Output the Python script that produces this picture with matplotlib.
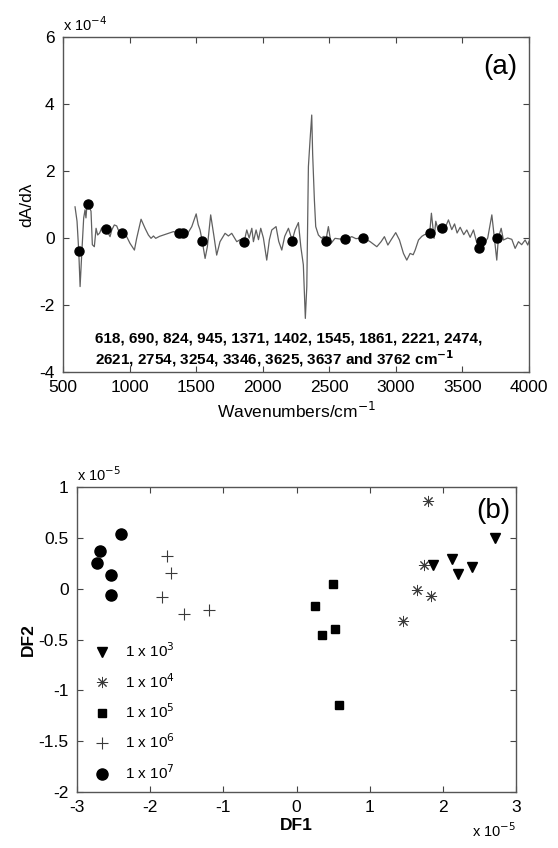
import matplotlib
matplotlib.use("Agg")
import matplotlib.pyplot as plt

plt.rcParams['font.family'] = ['Liberation Sans', 'DejaVu Sans']
plt.rcParams['axes.unicode_minus'] = False

# ---------------- Panel (a) data (values in units of 1e-4) ----------------
spec_wn = [590, 605, 618, 628, 640, 655, 665, 672, 680, 690, 700, 710, 720, 735, 748, 760,
           775, 790, 815, 824, 840, 853, 866, 885, 903, 915, 945, 960, 978, 1003, 1036, 1053,
           1086, 1116, 1141, 1161, 1179, 1196, 1225, 1254, 1291, 1329, 1371, 1402, 1429, 1467,
           1500, 1515, 1529, 1545, 1567, 1584, 1609, 1634, 1654, 1679, 1717, 1742, 1767, 1805,
           1830, 1861, 1880, 1898, 1918, 1930, 1950, 1968, 1985, 2005, 2030, 2050, 2068, 2100,
           2120, 2143, 2165, 2193, 2221, 2243, 2268, 2286, 2305, 2320, 2331, 2343, 2355, 2368,
           2375, 2388, 2398, 2418, 2440, 2460, 2474, 2493, 2513, 2543, 2580, 2621, 2669, 2700,
           2754, 2807, 2857, 2889, 2914, 2940, 2965, 2999, 3027, 3057, 3082, 3107, 3130, 3145,
           3170, 3195, 3215, 3254, 3267, 3287, 3300, 3320, 3346, 3370, 3395, 3420, 3441, 3460,
           3483, 3510, 3533, 3558, 3583, 3605, 3625, 3637, 3658, 3690, 3721, 3740, 3758, 3770,
           3791, 3808, 3840, 3871, 3896, 3921, 3945, 3971, 3991, 4000]
spec_val = [0.93, 0.5, -0.4, -1.45, -0.5, 0.6, 0.84, 0.6, 1.0, 1.13, 0.9, 0.8, -0.2, -0.26, 0.29, 0.09,
            0.15, 0.3, 0.27, 0.28, 0.14, 0.04, 0.24, 0.39, 0.36, 0.24, 0.12, 0.1, 0.04, -0.16, -0.36, -0.01,
            0.56, 0.29, 0.09, -0.01, 0.06, -0.01, 0.05, 0.09, 0.14, 0.19, 0.15, 0.12, 0.09, 0.34,
            0.72, 0.4, 0.24, -0.08, -0.61, -0.26, 0.69, 0.04, -0.51, -0.11, 0.14, 0.06, 0.14, -0.11,
            -0.05, -0.1, 0.24, 0.0, 0.29, -0.11, 0.24, -0.05, 0.29, 0.0, -0.66, -0.05, 0.24, 0.34,
            -0.1, -0.36, 0.05, 0.29, -0.07, 0.24, 0.46, -0.26, -0.8, -2.4, -1.45, 2.13, 2.9, 3.67,
            2.5, 1.13, 0.34, 0.09, 0.0, 0.05, -0.08, 0.34, -0.16, -0.01, -0.03, -0.04, 0.04, -0.02,
            0.01, -0.11, -0.26, -0.11, 0.04, -0.21, -0.05, 0.16, -0.06, -0.46, -0.66, -0.46, -0.5, -0.36,
            -0.06, 0.05, 0.1, 0.14, 0.74, -0.01, 0.5, 0.2, 0.29, 0.3, 0.54, 0.25, 0.42, 0.15,
            0.32, 0.1, 0.24, 0.02, 0.24, -0.1, -0.31, -0.09, -0.21, 0.0, 0.69, 0.0, -0.66, 0.0,
            0.29, -0.06, 0.0, -0.04, -0.31, -0.11, -0.2, -0.06, -0.21, -0.1]

marker_wn = [618, 690, 824, 945, 1371, 1402, 1545, 1861, 2221, 2474, 2621, 2754,
             3254, 3346, 3625, 3637, 3762]
marker_val = [-0.4, 1.0, 0.28, 0.14, 0.14, 0.14, -0.08, -0.11, -0.09, -0.08, -0.04, 0.01,
              0.14, 0.29, -0.31, -0.09, 0.01]

note_line1 = '618, 690, 824, 945, 1371, 1402, 1545, 1861, 2221, 2474,'
note_line2 = r'2621, 2754, 3254, 3346, 3625, 3637 and 3762 cm$^{\mathbf{-1}}$'

a_xticks = [500, 1000, 1500, 2000, 2500, 3000, 3500, 4000]
a_yticks = [-4, -2, 0, 2, 4, 6]

# ---------------- Panel (b) data (units of 1e-5) ----------------
c3_x = [2.71, 1.86, 2.13, 2.21, 2.40]
c3_y = [0.50, 0.23, 0.29, 0.145, 0.21]
c4_x = [1.80, 1.745, 1.64, 1.84, 1.45]
c4_y = [0.86, 0.235, -0.01, -0.07, -0.32]
c5_x = [0.50, 0.25, 0.525, 0.35, 0.58]
c5_y = [0.05, -0.175, -0.40, -0.455, -1.14]
c6_x = [-1.775, -1.716, -1.84, -1.54, -1.20]
c6_y = [0.32, 0.15, -0.08, -0.25, -0.21]
c7_x = [-2.40, -2.69, -2.72, -2.54, -2.54]
c7_y = [0.54, 0.37, 0.25, 0.13, -0.06]
legend_labels = [r'1 x 10$^3$', r'1 x 10$^4$', r'1 x 10$^5$', r'1 x 10$^6$', r'1 x 10$^7$']

b_xticks = [-3, -2, -1, 0, 1, 2, 3]
b_yticks = [-2, -1.5, -1, -0.5, 0, 0.5, 1]
b_yticklabels = ['-2', '-1.5', '-1', '-0.5', '0', '0.5', '1']

fig = plt.figure(figsize=(5.58, 8.48), dpi=100)
fig.patch.set_facecolor('white')

TICKFS = 12.5

def style(ax):
    ax.tick_params(direction='in', top=True, right=True, length=4, width=0.8,
                   labelsize=TICKFS, pad=6, color='#444444')
    for s in ax.spines.values():
        s.set_color('#555555')
        s.set_linewidth(1.0)

# ---- panel a ----
axa = fig.add_axes([0.113, 0.5613, 0.835, 0.3951])
axa.plot(spec_wn, spec_val, color='#606060', lw=0.9)
axa.plot(marker_wn, marker_val, 'o', color='black', ms=6.5, ls='none')
axa.set_xlim(500, 4000)
axa.set_ylim(-4, 6)
axa.set_xticks(a_xticks)
axa.set_yticks(a_yticks)
style(axa)
axa.set_xlabel(r'Wavenumbers/cm$^{-1}$', fontsize=TICKFS, labelpad=4)
axa.set_ylabel('dA/d\u03bb', fontsize=TICKFS, labelpad=4)
axa.text(0.0, 1.01, r'x 10$^{-4}$', transform=axa.transAxes, fontsize=10.5, ha='left', va='bottom')
axa.text(0.976, 0.91, '(a)', transform=axa.transAxes, fontsize=20, ha='right', va='center')
axa.text(740, -3.0, note_line1, fontsize=11, fontweight='bold', ha='left', va='center')
axa.text(740, -3.6, note_line2, fontsize=11, fontweight='bold', ha='left', va='center')

# ---- panel b ----
axb = fig.add_axes([0.138, 0.066, 0.787, 0.3597])
axb.plot(c3_x, c3_y, 'v', color='black', ms=7.5, ls='none', label=legend_labels[0])
axb.plot(c4_x, c4_y, marker=(8, 2, 0), color='#3a3a3a', ms=8, mew=0.7, ls='none', label=legend_labels[1])
axb.plot(c5_x, c5_y, 's', color='black', ms=6, ls='none', label=legend_labels[2])
axb.plot(c6_x, c6_y, '+', color='#3a3a3a', ms=9, mew=0.8, ls='none', label=legend_labels[3])
axb.plot(c7_x, c7_y, 'o', color='black', ms=8, ls='none', label=legend_labels[4])
axb.set_xlim(-3, 3)
axb.set_ylim(-2, 1)
axb.set_xticks(b_xticks)
axb.set_yticks(b_yticks)
axb.set_yticklabels(b_yticklabels)
style(axb)
axb.set_xlabel('DF1', fontsize=TICKFS, fontweight='bold', labelpad=2)
axb.set_ylabel('DF2', fontsize=TICKFS, fontweight='bold', labelpad=2)
axb.text(0.0, 1.01, r'x 10$^{-5}$', transform=axb.transAxes, fontsize=10.5, ha='left', va='bottom')
axb.text(1.0, -0.095, r'x 10$^{-5}$', transform=axb.transAxes, fontsize=10.5, ha='right', va='top')
axb.text(0.986, 0.921, '(b)', transform=axb.transAxes, fontsize=20, ha='right', va='center')
axb.legend(loc='lower left', bbox_to_anchor=(0.0085, 0.013), frameon=False, fontsize=11,
           handletextpad=0.5, labelspacing=0.77, borderaxespad=0.0, handlelength=2.0)

fig.savefig('out.png', dpi=100, facecolor='white')
